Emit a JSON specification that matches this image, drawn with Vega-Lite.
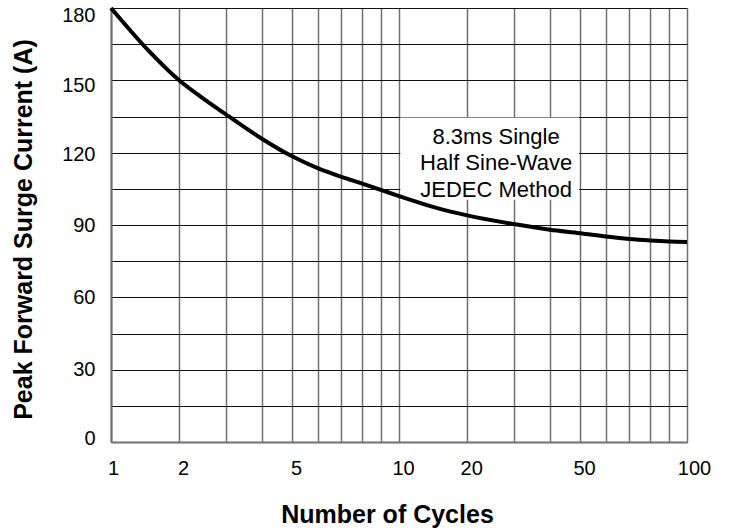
{
  "$schema": "https://vega.github.io/schema/vega-lite/v6.json",
  "width": 576,
  "height": 434,
  "autosize": "none",
  "padding": {"left": 111, "top": 8, "right": 42, "bottom": 89},
  "background": "white",
  "config": {"view": {"stroke": null}, "font": "Liberation Sans"},
  "layer": [
    {
      "data": {"values": [{"x1": 10.15, "x2": 49.6, "y1": 100.5, "y2": 134.6}]},
      "mark": {"type": "rect", "color": "white", "opacity": 1},
      "encoding": {
        "x": {
          "field": "x1", "type": "quantitative",
          "scale": {"type": "pow", "exponent": 0.28, "domain": [1, 10, 100], "range": [0, 288, 576], "zero": false, "nice": false},
          "axis": {
            "values": [1, 2, 3, 4, 5, 6, 7, 8, 9, 10, 20, 30, 40, 50, 60, 70, 80, 90, 100],
            "tickCount": 30,
            "format": "d",
            "labelExpr": "indexof([1,2,5,10,20,50,100], datum.value) >= 0 ? datum.label : ''",
            "labelOffset": {"condition": [{"test": "datum.value == 1", "value": 2}, {"test": "datum.value == 100", "value": 7}], "value": 4},
            "ticks": false, "tickSize": 0, "labelPadding": 16, "labelFontSize": 20, "labelColor": "black",
            "labelFont": "Liberation Sans", "labelOverlap": false, "labelFlush": false,
            "grid": true, "gridColor": "#707070", "gridWidth": 1.5, "gridOpacity": 1,
            "domain": true, "domainColor": "#707070", "domainWidth": 2,
            "title": "Number of Cycles", "titleFont": "Liberation Sans", "titleFontSize": 25, "titleFontWeight": "bold",
            "titleColor": "black", "titleX": 276, "titleY": 72, "titleBaseline": "middle", "titleAlign": "center"
          }
        },
        "x2": {"field": "x2"},
        "y": {
          "field": "y1", "type": "quantitative",
          "scale": {"domain": [0, 180], "zero": false, "nice": false},
          "axis": {
            "values": [0, 15, 30, 45, 60, 75, 90, 105, 120, 135, 150, 165, 180],
            "tickCount": 30,
            "labelExpr": "datum.value % 30 === 0 ? datum.label : ''",
            "labelOffset": {"condition": [{"test": "datum.value == 180", "value": 7}, {"test": "datum.value == 150", "value": 5}, {"test": "datum.value == 120", "value": 2}, {"test": "datum.value == 0", "value": -4}], "value": 0},
            "ticks": false, "tickSize": 0, "labelPadding": 16, "labelFontSize": 20, "labelColor": "black",
            "labelFont": "Liberation Sans", "labelOverlap": false, "labelFlush": false,
            "grid": true, "gridColor": "#111111", "gridWidth": 1, "gridOpacity": 1,
            "domain": true, "domainColor": "#707070", "domainWidth": 2,
            "title": "Peak Forward Surge Current (A)", "titleFont": "Liberation Sans", "titleFontSize": 25,
            "titleFontWeight": "bold", "titleColor": "black", "titleX": -88, "titleY": 221, "titleBaseline": "middle"
          }
        },
        "y2": {"field": "y2"}
      }
    },
    {
      "data": {"values": [
        {"cycles": 1, "current": 180},
        {"cycles": 1.5, "current": 162},
        {"cycles": 2, "current": 150},
        {"cycles": 2.5, "current": 142.2},
        {"cycles": 3, "current": 136},
        {"cycles": 4, "current": 125.8},
        {"cycles": 5, "current": 118.5},
        {"cycles": 6, "current": 113.5},
        {"cycles": 7, "current": 110},
        {"cycles": 8, "current": 107.2},
        {"cycles": 9, "current": 104.5},
        {"cycles": 10, "current": 102},
        {"cycles": 15, "current": 97},
        {"cycles": 20, "current": 94},
        {"cycles": 30, "current": 90.4},
        {"cycles": 40, "current": 88},
        {"cycles": 50, "current": 86.6},
        {"cycles": 60, "current": 85.2},
        {"cycles": 70, "current": 84.2},
        {"cycles": 80, "current": 83.6},
        {"cycles": 90, "current": 83.2},
        {"cycles": 100, "current": 83}
      ]},
      "mark": {"type": "line", "color": "black", "strokeWidth": 4, "interpolate": "monotone"},
      "encoding": {
        "x": {"field": "cycles", "type": "quantitative"},
        "y": {"field": "current", "type": "quantitative"}
      }
    },
    {
      "data": {"values": [{"cycles": 25.9, "current": 126.5, "label": "8.3ms Single\nHalf Sine-Wave\nJEDEC Method"}]},
      "mark": {"type": "text", "lineBreak": "\n", "lineHeight": 26.5, "fontSize": 22, "font": "Liberation Sans", "color": "black", "align": "center", "baseline": "middle"},
      "encoding": {
        "x": {"field": "cycles", "type": "quantitative"},
        "y": {"field": "current", "type": "quantitative"},
        "text": {"field": "label"}
      }
    }
  ]
}
